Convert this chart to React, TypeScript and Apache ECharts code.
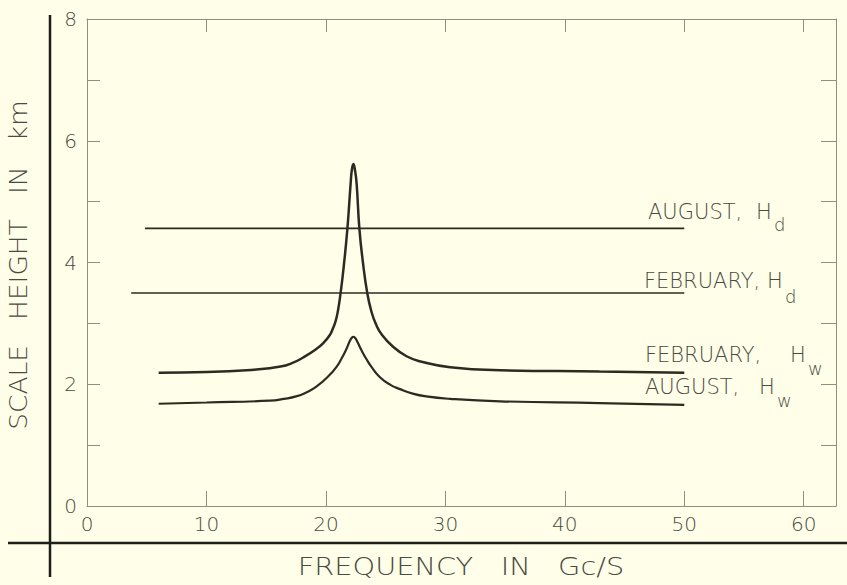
import React, { useEffect, useRef } from "react";
import * as echarts from "echarts";

// ---- data ----
const febHwFreq = [6.0, 10, 14, 16.2, 17.2, 18.1, 19.2, 19.8, 20.3, 20.55, 20.8, 21.0, 21.23, 21.5, 21.8, 22.07, 22.17, 22.3, 22.43, 22.57, 22.8, 23.1, 23.46, 23.8, 24.2, 24.66, 25.6, 26.75, 28, 30.4, 34.6, 42.9, 50];
const febHw = [2.19, 2.2, 2.24, 2.29, 2.35, 2.44, 2.58, 2.68, 2.8, 2.9, 3.03, 3.2, 3.5, 3.95, 4.56, 5.3, 5.52, 5.62, 5.52, 5.3, 4.56, 4.0, 3.5, 3.2, 2.98, 2.82, 2.62, 2.46, 2.37, 2.28, 2.23, 2.21, 2.19];

const augHwFreq = [6.0, 10, 15.3, 16.5, 17.5, 18.4, 19.2, 20.2, 20.9, 21.3, 21.67, 22.0, 22.15, 22.3, 22.45, 22.6, 23.0, 23.4, 23.8, 24.5, 25.4, 26.2, 27.2, 28.4, 30.4, 34.6, 42.9, 50];
const augHw = [1.68, 1.7, 1.73, 1.76, 1.8, 1.87, 1.96, 2.13, 2.29, 2.42, 2.56, 2.71, 2.76, 2.78, 2.76, 2.71, 2.55, 2.41, 2.29, 2.12, 1.99, 1.92, 1.85, 1.8, 1.76, 1.72, 1.69, 1.66];

const augHdFreq = [4.85, 50];
const augHd = [4.56, 4.56];
const febHdFreq = [3.7, 50];
const febHd = [3.5, 3.5];

const xMin = 0;
const xMax = 62.7;
const yMin = 0;
const yMax = 8;

const xTitle = "FREQUENCY   IN   Gc/S";
const yTitle = "SCALE   HEIGHT   IN   km";

const FONT = "'DejaVu Sans', sans-serif";
const INK = "#2b2b22";
const FRAME = "#8f8f80";
const TEXT = "#4a4a40";
const BG = "#fefee9";

const pairs = (xs: number[], ys: number[]) => xs.map((x, i) => [x, ys[i]]);

export default function App() {
  const ref = useRef<HTMLDivElement>(null);
  useEffect(() => {
    if (!ref.current) return;
    const chart = echarts.init(ref.current, undefined, { renderer: "svg" });
    const tickStyle = { color: FRAME, width: 1 };
    const labelText = (text: string, x: number, y: number, size = 21) => ({
      type: "text",
      x,
      y,
      style: { text, fill: TEXT, font: `200 ${size}px ${FONT}`, textVerticalAlign: "middle", textAlign: "left" },
      z: 10,
    });
    chart.setOption({
      animation: false,
      backgroundColor: BG,
      grid: { left: 87, top: 19, right: 11, bottom: 79 },
      xAxis: [
        {
          type: "value",
          min: xMin,
          max: xMax,
          interval: 10,
          position: "bottom",
          axisLine: { onZero: false, lineStyle: tickStyle },
          axisTick: { inside: true, length: 15, lineStyle: tickStyle },
          axisLabel: {
            formatter: (v: number) => (v % 10 === 0 ? String(v) : ""),
            fontSize: 20,
            fontFamily: FONT,
            fontWeight: 200,
            color: TEXT,
            margin: 8,
            showMaxLabel: false,
          },
          splitLine: { show: false },
        },
        {
          type: "value",
          min: xMin,
          max: xMax,
          interval: 10,
          position: "top",
          axisLine: { onZero: false, lineStyle: tickStyle },
          axisTick: { inside: true, length: 13, lineStyle: tickStyle },
          axisLabel: { show: false },
          splitLine: { show: false },
        },
      ],
      yAxis: [
        {
          type: "value",
          min: yMin,
          max: yMax,
          interval: 1,
          position: "left",
          axisLine: { onZero: false, lineStyle: tickStyle },
          axisTick: { inside: true, length: 13, lineStyle: tickStyle },
          axisLabel: {
            formatter: (v: number) => (v % 2 === 0 ? String(v) : ""),
            fontSize: 20,
            fontFamily: FONT,
            fontWeight: 200,
            color: TEXT,
            margin: 10,
          },
          splitLine: { show: false },
        },
        {
          type: "value",
          min: yMin,
          max: yMax,
          interval: 1,
          position: "right",
          axisLine: { onZero: false, lineStyle: tickStyle },
          axisTick: { inside: true, length: 15, lineStyle: tickStyle },
          axisLabel: { show: false },
          splitLine: { show: false },
        },
      ],
      series: [
        {
          name: "FEBRUARY, Hw",
          type: "line",
          data: pairs(febHwFreq, febHw),
          showSymbol: false,
          smooth: 0.5,
          lineStyle: { color: INK, width: 2.5 },
        },
        {
          name: "AUGUST, Hw",
          type: "line",
          data: pairs(augHwFreq, augHw),
          showSymbol: false,
          smooth: 0.5,
          lineStyle: { color: INK, width: 2.2 },
        },
        {
          name: "AUGUST, Hd",
          type: "line",
          data: pairs(augHdFreq, augHd),
          showSymbol: false,
          lineStyle: { color: INK, width: 1.6 },
        },
        {
          name: "FEBRUARY, Hd",
          type: "line",
          data: pairs(febHdFreq, febHd),
          showSymbol: false,
          lineStyle: { color: INK, width: 1.6 },
        },
      ],
      graphic: [
        { type: "line", shape: { x1: 50, y1: 15, x2: 50, y2: 577 }, style: { stroke: "#1e1e18", lineWidth: 2.5 } },
        { type: "line", shape: { x1: 8, y1: 543, x2: 847, y2: 543 }, style: { stroke: "#1e1e18", lineWidth: 2.5 } },
        {
          type: "text",
          x: 461,
          y: 566,
          scaleX: 1.2,
          style: { text: xTitle, fill: TEXT, font: `200 24px ${FONT}`, textAlign: "center", textVerticalAlign: "middle" },
        },
        {
          type: "text",
          x: 19,
          y: 265,
          rotation: Math.PI / 2,
          scaleX: 1.1,
          style: { text: yTitle, fill: TEXT, font: `200 24px ${FONT}`, textAlign: "center", textVerticalAlign: "middle" },
        },
        labelText("AUGUST,", 648, 212),
        labelText("H", 756, 212),
        labelText("d", 774, 224, 18),
        labelText("FEBRUARY,", 644, 281),
        labelText("H", 767, 281),
        labelText("d", 785, 296, 18),
        labelText("FEBRUARY,", 645, 355),
        labelText("H", 790, 355),
        labelText("w", 808, 368, 18),
        labelText("AUGUST,", 645, 387),
        labelText("H", 759, 387),
        labelText("w", 777, 400, 18),
      ],
    });
    return () => chart.dispose();
  }, []);
  return (
    <div style={{ position: "absolute", left: 0, top: 0, width: 847, height: 585, background: BG }}>
      <div ref={ref} style={{ width: 847, height: 585 }} />
    </div>
  );
}
